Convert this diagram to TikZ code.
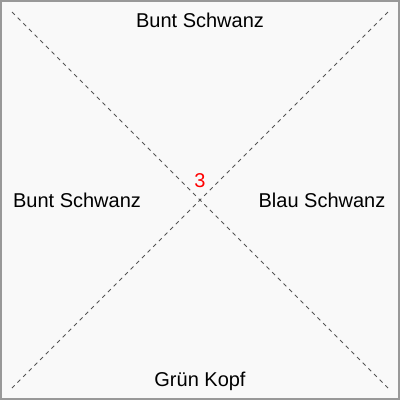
\documentclass[tikz,border=0pt]{standalone}
\usepackage{fontspec}
\setmainfont{Liberation Sans}
\definecolor{bg}{HTML}{F9F9F9}
\definecolor{frame}{HTML}{999999}
\definecolor{diag}{HTML}{555555}
\begin{document}
\begin{tikzpicture}[x=1pt,y=-1pt,
  lbl/.style={font=\fontsize{20}{23}\selectfont, inner sep=0pt, text=black},
  dia/.style={draw=diag, line width=0.9pt, dash pattern=on 4pt off 4pt}]
\useasboundingbox (0,0) rectangle (400,400);
\fill[bg] (0,0) rectangle (400,400);
\draw[frame, line width=2pt] (1,1) rectangle (399,399);
\coordinate (tl) at (12,12);
\coordinate (tr) at (388,12);
\coordinate (bl) at (12,388);
\coordinate (br) at (388,388);
\draw[dia] (tl) -- (br);
\draw[dia] (tr) -- (bl);
\node[lbl] (top) at (200,20) {Bunt Schwanz};
\node[lbl] (left) at (77,200) {Bunt Schwanz};
\node[lbl] (right) at (322,200) {Blau Schwanz};
\node[lbl] (bottom) at (200,381) {Grün Kopf};
\node[lbl, text=red] (num) at (200,181) {3};
\end{tikzpicture}
\end{document}
